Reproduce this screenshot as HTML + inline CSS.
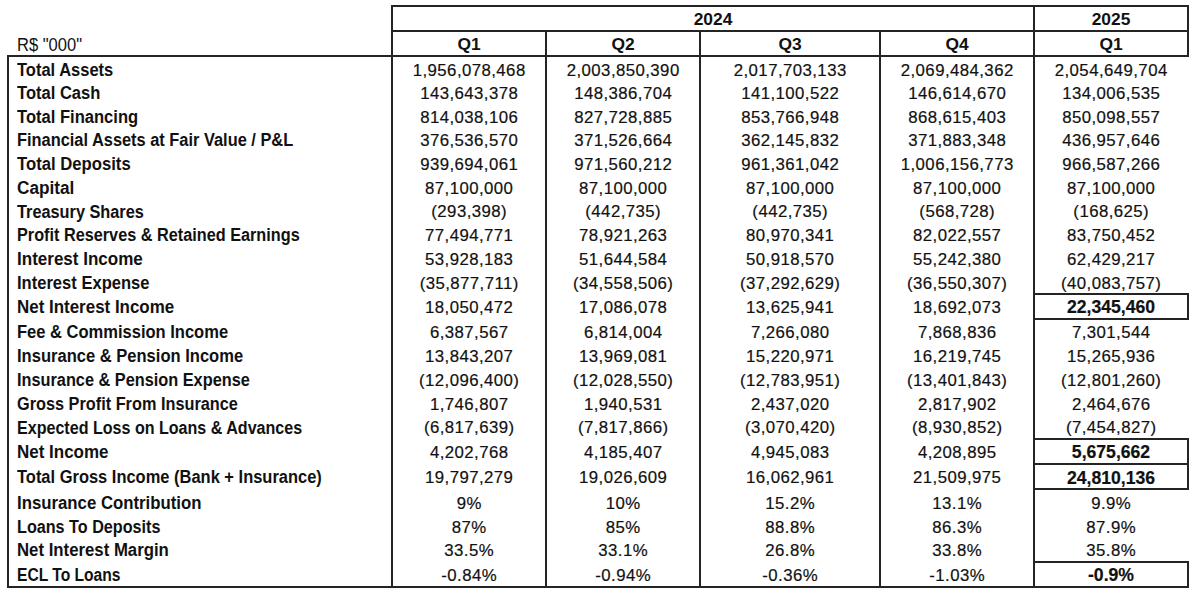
<!DOCTYPE html>
<html><head><meta charset="utf-8"><style>
html,body{margin:0;padding:0;background:#fff;width:1200px;height:605px;overflow:hidden;position:relative}
i{position:absolute;background:#242424;display:block}
b{position:absolute;display:block;line-height:0;height:0;white-space:nowrap;font-family:"Liberation Sans",sans-serif;color:#111;font-weight:400}
b.n,b.h{width:300px;text-align:center}
b.n{-webkit-text-stroke:0.2px #111}
b.l{font-weight:700;transform-origin:0 0}
b.r{font-weight:400}
</style></head><body>
<i style="left:391px;top:5px;width:798px;height:2px"></i>
<i style="left:391px;top:30px;width:798px;height:2px"></i>
<i style="left:7px;top:55px;width:1182px;height:2px"></i>
<i style="left:7px;top:586px;width:1182px;height:2px"></i>
<i style="left:7px;top:55px;width:2px;height:533px"></i>
<i style="left:391px;top:5px;width:2px;height:583px"></i>
<i style="left:545px;top:30px;width:2px;height:558px"></i>
<i style="left:699px;top:30px;width:2px;height:558px"></i>
<i style="left:879px;top:30px;width:2px;height:558px"></i>
<i style="left:1033px;top:5px;width:2px;height:583px"></i>
<i style="left:1187px;top:5px;width:2px;height:52px"></i>
<i style="left:1033px;top:438px;width:156px;height:2px"></i>
<i style="left:1033px;top:463px;width:156px;height:2px"></i>
<i style="left:1187px;top:438px;width:2px;height:27px"></i>
<i style="left:1033px;top:463px;width:156px;height:2px"></i>
<i style="left:1033px;top:488px;width:156px;height:2px"></i>
<i style="left:1187px;top:463px;width:2px;height:27px"></i>
<i style="left:1033px;top:293px;width:156px;height:2px"></i>
<i style="left:1033px;top:318px;width:156px;height:2px"></i>
<i style="left:1187px;top:293px;width:2px;height:27px"></i>
<i style="left:1033px;top:561px;width:156px;height:2px"></i>
<i style="left:1033px;top:586px;width:156px;height:2px"></i>
<i style="left:1187px;top:561px;width:2px;height:27px"></i>
<b class="h" style="left:563.00px;top:18.77px;font-size:17.4px;font-weight:700;">2024</b>
<b class="h" style="left:961.00px;top:18.77px;font-size:17.4px;font-weight:700;">2025</b>
<b class="h" style="left:319.00px;top:43.77px;font-size:17.4px;font-weight:700;">Q1</b>
<b class="h" style="left:473.00px;top:43.77px;font-size:17.4px;font-weight:700;">Q2</b>
<b class="h" style="left:640.00px;top:43.77px;font-size:17.4px;font-weight:700;">Q3</b>
<b class="h" style="left:807.00px;top:43.77px;font-size:17.4px;font-weight:700;">Q4</b>
<b class="h" style="left:961.00px;top:43.77px;font-size:17.4px;font-weight:700;">Q1</b>
<b class="l r" style="left:16.7px;top:45.10px;font-size:17.6px;transform:scaleX(0.94)">R$ "000"</b>
<b class="l" style="left:17.0px;top:69.86px;font-size:18.3px;transform:scaleX(0.9019)">Total Assets</b>
<b class="n" style="left:319.21px;top:70.58px;font-size:16.8px;letter-spacing:0.43px;">1,956,078,468</b>
<b class="n" style="left:473.21px;top:70.58px;font-size:16.8px;letter-spacing:0.43px;">2,003,850,390</b>
<b class="n" style="left:640.22px;top:70.58px;font-size:16.8px;letter-spacing:0.43px;">2,017,703,133</b>
<b class="n" style="left:807.22px;top:70.58px;font-size:16.8px;letter-spacing:0.43px;">2,069,484,362</b>
<b class="n" style="left:961.22px;top:70.58px;font-size:16.8px;letter-spacing:0.43px;">2,054,649,704</b>
<b class="l" style="left:17.0px;top:93.26px;font-size:18.3px;transform:scaleX(0.9055)">Total Cash</b>
<b class="n" style="left:319.21px;top:93.98px;font-size:16.8px;letter-spacing:0.43px;">143,643,378</b>
<b class="n" style="left:473.21px;top:93.98px;font-size:16.8px;letter-spacing:0.43px;">148,386,704</b>
<b class="n" style="left:640.22px;top:93.98px;font-size:16.8px;letter-spacing:0.43px;">141,100,522</b>
<b class="n" style="left:807.22px;top:93.98px;font-size:16.8px;letter-spacing:0.43px;">146,614,670</b>
<b class="n" style="left:961.22px;top:93.98px;font-size:16.8px;letter-spacing:0.43px;">134,006,535</b>
<b class="l" style="left:17.0px;top:116.86px;font-size:18.3px;transform:scaleX(0.9061)">Total Financing</b>
<b class="n" style="left:319.21px;top:117.58px;font-size:16.8px;letter-spacing:0.43px;">814,038,106</b>
<b class="n" style="left:473.21px;top:117.58px;font-size:16.8px;letter-spacing:0.43px;">827,728,885</b>
<b class="n" style="left:640.22px;top:117.58px;font-size:16.8px;letter-spacing:0.43px;">853,766,948</b>
<b class="n" style="left:807.22px;top:117.58px;font-size:16.8px;letter-spacing:0.43px;">868,615,403</b>
<b class="n" style="left:961.22px;top:117.58px;font-size:16.8px;letter-spacing:0.43px;">850,098,557</b>
<b class="l" style="left:17.0px;top:140.36px;font-size:18.3px;transform:scaleX(0.8961)">Financial Assets at Fair Value / P&amp;L</b>
<b class="n" style="left:319.21px;top:141.08px;font-size:16.8px;letter-spacing:0.43px;">376,536,570</b>
<b class="n" style="left:473.21px;top:141.08px;font-size:16.8px;letter-spacing:0.43px;">371,526,664</b>
<b class="n" style="left:640.22px;top:141.08px;font-size:16.8px;letter-spacing:0.43px;">362,145,832</b>
<b class="n" style="left:807.22px;top:141.08px;font-size:16.8px;letter-spacing:0.43px;">371,883,348</b>
<b class="n" style="left:961.22px;top:141.08px;font-size:16.8px;letter-spacing:0.43px;">436,957,646</b>
<b class="l" style="left:17.0px;top:164.36px;font-size:18.3px;transform:scaleX(0.9122)">Total Deposits</b>
<b class="n" style="left:319.21px;top:165.08px;font-size:16.8px;letter-spacing:0.43px;">939,694,061</b>
<b class="n" style="left:473.21px;top:165.08px;font-size:16.8px;letter-spacing:0.43px;">971,560,212</b>
<b class="n" style="left:640.22px;top:165.08px;font-size:16.8px;letter-spacing:0.43px;">961,361,042</b>
<b class="n" style="left:807.22px;top:165.08px;font-size:16.8px;letter-spacing:0.43px;">1,006,156,773</b>
<b class="n" style="left:961.22px;top:165.08px;font-size:16.8px;letter-spacing:0.43px;">966,587,266</b>
<b class="l" style="left:17.0px;top:188.16px;font-size:18.3px;transform:scaleX(0.9417)">Capital</b>
<b class="n" style="left:319.21px;top:188.88px;font-size:16.8px;letter-spacing:0.43px;">87,100,000</b>
<b class="n" style="left:473.21px;top:188.88px;font-size:16.8px;letter-spacing:0.43px;">87,100,000</b>
<b class="n" style="left:640.22px;top:188.88px;font-size:16.8px;letter-spacing:0.43px;">87,100,000</b>
<b class="n" style="left:807.22px;top:188.88px;font-size:16.8px;letter-spacing:0.43px;">87,100,000</b>
<b class="n" style="left:961.22px;top:188.88px;font-size:16.8px;letter-spacing:0.43px;">87,100,000</b>
<b class="l" style="left:17.0px;top:211.56px;font-size:18.3px;transform:scaleX(0.8915)">Treasury Shares</b>
<b class="n" style="left:319.21px;top:212.28px;font-size:16.8px;letter-spacing:0.43px;">(293,398)</b>
<b class="n" style="left:473.21px;top:212.28px;font-size:16.8px;letter-spacing:0.43px;">(442,735)</b>
<b class="n" style="left:640.22px;top:212.28px;font-size:16.8px;letter-spacing:0.43px;">(442,735)</b>
<b class="n" style="left:807.22px;top:212.28px;font-size:16.8px;letter-spacing:0.43px;">(568,728)</b>
<b class="n" style="left:961.22px;top:212.28px;font-size:16.8px;letter-spacing:0.43px;">(168,625)</b>
<b class="l" style="left:17.0px;top:234.86px;font-size:18.3px;transform:scaleX(0.8889)">Profit Reserves &amp; Retained Earnings</b>
<b class="n" style="left:319.21px;top:235.58px;font-size:16.8px;letter-spacing:0.43px;">77,494,771</b>
<b class="n" style="left:473.21px;top:235.58px;font-size:16.8px;letter-spacing:0.43px;">78,921,263</b>
<b class="n" style="left:640.22px;top:235.58px;font-size:16.8px;letter-spacing:0.43px;">80,970,341</b>
<b class="n" style="left:807.22px;top:235.58px;font-size:16.8px;letter-spacing:0.43px;">82,022,557</b>
<b class="n" style="left:961.22px;top:235.58px;font-size:16.8px;letter-spacing:0.43px;">83,750,452</b>
<b class="l" style="left:17.0px;top:258.86px;font-size:18.3px;transform:scaleX(0.9312)">Interest Income</b>
<b class="n" style="left:319.21px;top:259.58px;font-size:16.8px;letter-spacing:0.43px;">53,928,183</b>
<b class="n" style="left:473.21px;top:259.58px;font-size:16.8px;letter-spacing:0.43px;">51,644,584</b>
<b class="n" style="left:640.22px;top:259.58px;font-size:16.8px;letter-spacing:0.43px;">50,918,570</b>
<b class="n" style="left:807.22px;top:259.58px;font-size:16.8px;letter-spacing:0.43px;">55,242,380</b>
<b class="n" style="left:961.22px;top:259.58px;font-size:16.8px;letter-spacing:0.43px;">62,429,217</b>
<b class="l" style="left:17.0px;top:282.96px;font-size:18.3px;transform:scaleX(0.9055)">Interest Expense</b>
<b class="n" style="left:319.21px;top:283.68px;font-size:16.8px;letter-spacing:0.43px;">(35,877,711)</b>
<b class="n" style="left:473.21px;top:283.68px;font-size:16.8px;letter-spacing:0.43px;">(34,558,506)</b>
<b class="n" style="left:640.22px;top:283.68px;font-size:16.8px;letter-spacing:0.43px;">(37,292,629)</b>
<b class="n" style="left:807.22px;top:283.68px;font-size:16.8px;letter-spacing:0.43px;">(36,550,307)</b>
<b class="n" style="left:961.22px;top:283.68px;font-size:16.8px;letter-spacing:0.43px;">(40,083,757)</b>
<b class="l" style="left:17.0px;top:306.96px;font-size:18.3px;transform:scaleX(0.9266)">Net Interest Income</b>
<b class="n" style="left:319.21px;top:307.68px;font-size:16.8px;letter-spacing:0.43px;">18,050,472</b>
<b class="n" style="left:473.21px;top:307.68px;font-size:16.8px;letter-spacing:0.43px;">17,086,078</b>
<b class="n" style="left:640.22px;top:307.68px;font-size:16.8px;letter-spacing:0.43px;">13,625,941</b>
<b class="n" style="left:807.22px;top:307.68px;font-size:16.8px;letter-spacing:0.43px;">18,692,073</b>
<b class="n" style="left:961.00px;top:307.00px;font-size:17.6px;font-weight:700;">22,345,460</b>
<b class="l" style="left:17.0px;top:332.26px;font-size:18.3px;transform:scaleX(0.9034)">Fee &amp; Commission Income</b>
<b class="n" style="left:319.21px;top:332.98px;font-size:16.8px;letter-spacing:0.43px;">6,387,567</b>
<b class="n" style="left:473.21px;top:332.98px;font-size:16.8px;letter-spacing:0.43px;">6,814,004</b>
<b class="n" style="left:640.22px;top:332.98px;font-size:16.8px;letter-spacing:0.43px;">7,266,080</b>
<b class="n" style="left:807.22px;top:332.98px;font-size:16.8px;letter-spacing:0.43px;">7,868,836</b>
<b class="n" style="left:961.22px;top:332.98px;font-size:16.8px;letter-spacing:0.43px;">7,301,544</b>
<b class="l" style="left:17.0px;top:356.06px;font-size:18.3px;transform:scaleX(0.9048)">Insurance &amp; Pension Income</b>
<b class="n" style="left:319.21px;top:356.78px;font-size:16.8px;letter-spacing:0.43px;">13,843,207</b>
<b class="n" style="left:473.21px;top:356.78px;font-size:16.8px;letter-spacing:0.43px;">13,969,081</b>
<b class="n" style="left:640.22px;top:356.78px;font-size:16.8px;letter-spacing:0.43px;">15,220,971</b>
<b class="n" style="left:807.22px;top:356.78px;font-size:16.8px;letter-spacing:0.43px;">16,219,745</b>
<b class="n" style="left:961.22px;top:356.78px;font-size:16.8px;letter-spacing:0.43px;">15,265,936</b>
<b class="l" style="left:17.0px;top:380.06px;font-size:18.3px;transform:scaleX(0.8915)">Insurance &amp; Pension Expense</b>
<b class="n" style="left:319.21px;top:380.78px;font-size:16.8px;letter-spacing:0.43px;">(12,096,400)</b>
<b class="n" style="left:473.21px;top:380.78px;font-size:16.8px;letter-spacing:0.43px;">(12,028,550)</b>
<b class="n" style="left:640.22px;top:380.78px;font-size:16.8px;letter-spacing:0.43px;">(12,783,951)</b>
<b class="n" style="left:807.22px;top:380.78px;font-size:16.8px;letter-spacing:0.43px;">(13,401,843)</b>
<b class="n" style="left:961.22px;top:380.78px;font-size:16.8px;letter-spacing:0.43px;">(12,801,260)</b>
<b class="l" style="left:17.0px;top:403.86px;font-size:18.3px;transform:scaleX(0.8911)">Gross Profit From Insurance</b>
<b class="n" style="left:319.21px;top:404.58px;font-size:16.8px;letter-spacing:0.43px;">1,746,807</b>
<b class="n" style="left:473.21px;top:404.58px;font-size:16.8px;letter-spacing:0.43px;">1,940,531</b>
<b class="n" style="left:640.22px;top:404.58px;font-size:16.8px;letter-spacing:0.43px;">2,437,020</b>
<b class="n" style="left:807.22px;top:404.58px;font-size:16.8px;letter-spacing:0.43px;">2,817,902</b>
<b class="n" style="left:961.22px;top:404.58px;font-size:16.8px;letter-spacing:0.43px;">2,464,676</b>
<b class="l" style="left:17.0px;top:427.66px;font-size:18.3px;transform:scaleX(0.879)">Expected Loss on Loans &amp; Advances</b>
<b class="n" style="left:319.21px;top:428.38px;font-size:16.8px;letter-spacing:0.43px;">(6,817,639)</b>
<b class="n" style="left:473.21px;top:428.38px;font-size:16.8px;letter-spacing:0.43px;">(7,817,866)</b>
<b class="n" style="left:640.22px;top:428.38px;font-size:16.8px;letter-spacing:0.43px;">(3,070,420)</b>
<b class="n" style="left:807.22px;top:428.38px;font-size:16.8px;letter-spacing:0.43px;">(8,930,852)</b>
<b class="n" style="left:961.22px;top:428.38px;font-size:16.8px;letter-spacing:0.43px;">(7,454,827)</b>
<b class="l" style="left:17.0px;top:451.86px;font-size:18.3px;transform:scaleX(0.9286)">Net Income</b>
<b class="n" style="left:319.21px;top:452.58px;font-size:16.8px;letter-spacing:0.43px;">4,202,768</b>
<b class="n" style="left:473.21px;top:452.58px;font-size:16.8px;letter-spacing:0.43px;">4,185,407</b>
<b class="n" style="left:640.22px;top:452.58px;font-size:16.8px;letter-spacing:0.43px;">4,945,083</b>
<b class="n" style="left:807.22px;top:452.58px;font-size:16.8px;letter-spacing:0.43px;">4,208,895</b>
<b class="n" style="left:961.00px;top:451.90px;font-size:17.6px;font-weight:700;">5,675,662</b>
<b class="l" style="left:17.0px;top:477.46px;font-size:18.3px;transform:scaleX(0.9006)">Total Gross Income (Bank + Insurance)</b>
<b class="n" style="left:319.21px;top:478.18px;font-size:16.8px;letter-spacing:0.43px;">19,797,279</b>
<b class="n" style="left:473.21px;top:478.18px;font-size:16.8px;letter-spacing:0.43px;">19,026,609</b>
<b class="n" style="left:640.22px;top:478.18px;font-size:16.8px;letter-spacing:0.43px;">16,062,961</b>
<b class="n" style="left:807.22px;top:478.18px;font-size:16.8px;letter-spacing:0.43px;">21,509,975</b>
<b class="n" style="left:961.00px;top:477.50px;font-size:17.6px;font-weight:700;">24,810,136</b>
<b class="l" style="left:17.0px;top:503.16px;font-size:18.3px;transform:scaleX(0.9175)">Insurance Contribution</b>
<b class="n" style="left:319.21px;top:503.88px;font-size:16.8px;letter-spacing:0.43px;">9%</b>
<b class="n" style="left:473.21px;top:503.88px;font-size:16.8px;letter-spacing:0.43px;">10%</b>
<b class="n" style="left:640.22px;top:503.88px;font-size:16.8px;letter-spacing:0.43px;">15.2%</b>
<b class="n" style="left:807.22px;top:503.88px;font-size:16.8px;letter-spacing:0.43px;">13.1%</b>
<b class="n" style="left:961.22px;top:503.88px;font-size:16.8px;letter-spacing:0.43px;">9.9%</b>
<b class="l" style="left:17.0px;top:527.09px;font-size:18.3px;transform:scaleX(0.8845)">Loans To Deposits</b>
<b class="n" style="left:319.21px;top:527.81px;font-size:16.8px;letter-spacing:0.43px;">87%</b>
<b class="n" style="left:473.21px;top:527.81px;font-size:16.8px;letter-spacing:0.43px;">85%</b>
<b class="n" style="left:640.22px;top:527.81px;font-size:16.8px;letter-spacing:0.43px;">88.8%</b>
<b class="n" style="left:807.22px;top:527.81px;font-size:16.8px;letter-spacing:0.43px;">86.3%</b>
<b class="n" style="left:961.22px;top:527.81px;font-size:16.8px;letter-spacing:0.43px;">87.9%</b>
<b class="l" style="left:17.0px;top:550.13px;font-size:18.3px;transform:scaleX(0.917)">Net Interest Margin</b>
<b class="n" style="left:319.21px;top:550.85px;font-size:16.8px;letter-spacing:0.43px;">33.5%</b>
<b class="n" style="left:473.21px;top:550.85px;font-size:16.8px;letter-spacing:0.43px;">33.1%</b>
<b class="n" style="left:640.22px;top:550.85px;font-size:16.8px;letter-spacing:0.43px;">26.8%</b>
<b class="n" style="left:807.22px;top:550.85px;font-size:16.8px;letter-spacing:0.43px;">33.8%</b>
<b class="n" style="left:961.22px;top:550.85px;font-size:16.8px;letter-spacing:0.43px;">35.8%</b>
<b class="l" style="left:17.0px;top:574.96px;font-size:18.3px;transform:scaleX(0.8542)">ECL To Loans</b>
<b class="n" style="left:319.21px;top:575.68px;font-size:16.8px;letter-spacing:0.43px;">-0.84%</b>
<b class="n" style="left:473.21px;top:575.68px;font-size:16.8px;letter-spacing:0.43px;">-0.94%</b>
<b class="n" style="left:640.22px;top:575.68px;font-size:16.8px;letter-spacing:0.43px;">-0.36%</b>
<b class="n" style="left:807.22px;top:575.68px;font-size:16.8px;letter-spacing:0.43px;">-1.03%</b>
<b class="n" style="left:961.00px;top:575.00px;font-size:17.6px;font-weight:700;">-0.9%</b>
</body></html>
